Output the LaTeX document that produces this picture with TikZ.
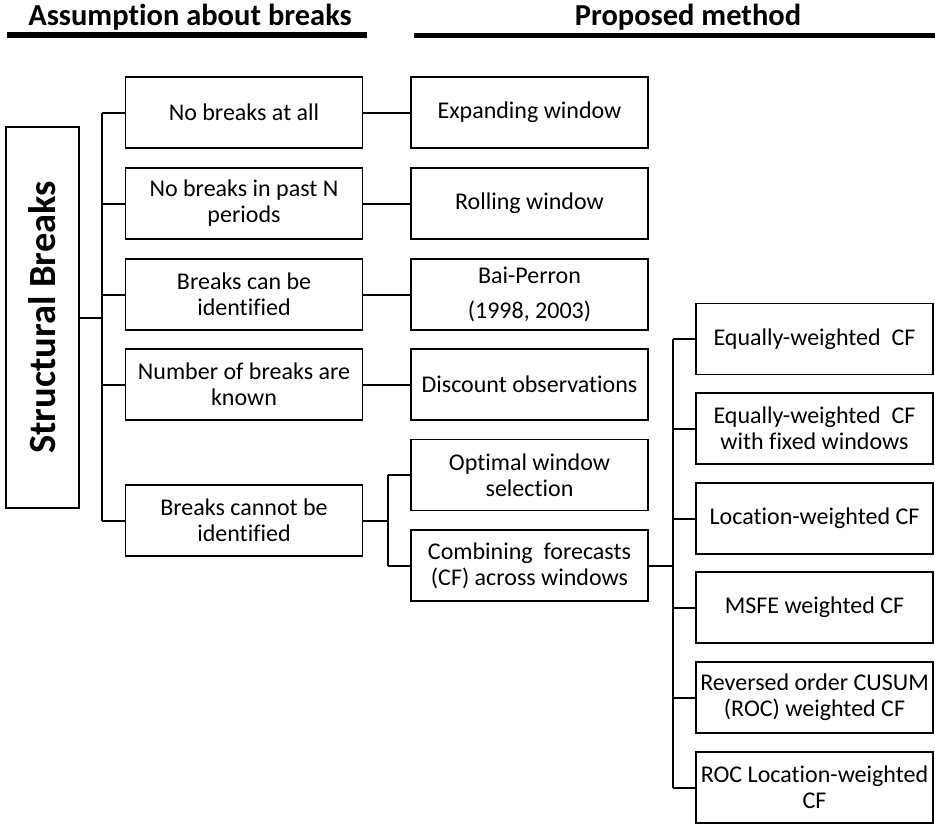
\documentclass[tikz,border=0pt]{standalone}
\usepackage{fontspec}
\setmainfont{Carlito}[Ligatures=NoCommon]
\begin{document}
\begin{tikzpicture}[x=1pt,y=-1pt,
  box/.style={draw, line width=1.8pt, minimum width=237pt, minimum height=71pt,
    inner sep=0pt, align=center, font=\fontsize{24}{26}\selectfont},
  link/.style={line width=2pt},
  header/.style={anchor=base, inner sep=0pt, font=\fontsize{30.5}{34}\selectfont\bfseries}]
\useasboundingbox (0,0) rectangle (935,828);

% column headings with their rules
\node[header] (hA) at (190,25) {Assumption about breaks};
\node[header] (hB) at (688,25) {Proposed method};
\fill (7,32) rectangle (367,37.5);
\fill (414,32.5) rectangle (935,38);

% root
\node[draw, line width=1.8pt, rotate=90, minimum width=381pt, minimum height=73pt,
  inner sep=0pt, font=\fontsize{38.5}{42}\selectfont\bfseries] (root) at (42.5,317.5) {Structural Breaks};

% assumptions
\node[box] (a1) at (244,112.5) {No breaks at all};
\node[box] (a2) at (244,203.5) {No breaks in past N\\periods};
\node[box] (a3) at (244,294.5) {Breaks can be\\identified};
\node[box] (a4) at (244,384.5) {Number of breaks are\\known};
\node[box] (a5) at (244,520.5) {Breaks cannot be\\identified};

% methods
\node[box] (b1) at (529.5,112.5) {Expanding window};
\node[box] (b2) at (529.5,203.5) {Rolling window};
\node[box] (b3) at (529.5,294.5) {Bai-Perron\\[9pt](1998, 2003)};
\node[box] (b4) at (529.5,384.5) {Discount observations};
\node[box] (b5) at (529.5,475) {Optimal window\\selection};
\node[box] (b6) at (529.5,565.5) {Combining\ \ forecasts\\(CF) across windows};

% combining-forecast variants
\node[box] (c1) at (814.5,339) {Equally-weighted\ \ CF};
\node[box] (c2) at (814.5,428.5) {Equally-weighted\ \ CF\\with fixed windows};
\node[box] (c3) at (814.5,518.5) {Location-weighted CF};
\node[box] (c4) at (814.5,607.5) {MSFE weighted CF};
\node[box] (c5) at (814.5,697.5) {Reversed order CUSUM\\(ROC) weighted CF};
\node[box] (c6) at (814.5,787.5) {ROC Location-weighted\\CF};

% bus positions
\coordinate (busA) at (102,0);
\coordinate (busB) at (388,0);
\coordinate (busC) at (673,0);

% root to assumptions
\draw[link] (root.south) -- (root.south -| busA);
\draw[link] (a1.west -| busA) -- (a5.west -| busA);
\foreach \i in {1,...,5} \draw[link] (a\i.west) -- (a\i.west -| busA);

% assumptions to methods
\foreach \i in {1,...,4} \draw[link] (a\i.east) -- (b\i.west);
\draw[link] (a5.east) -- (a5.east -| busB);
\draw[link] (b5.west -| busB) -- (b6.west -| busB);
\draw[link] (b5.west) -- (b5.west -| busB);
\draw[link] (b6.west) -- (b6.west -| busB);

% combining forecasts to variants
\draw[link] (b6.east) -- (b6.east -| busC);
\draw[link] (c1.west -| busC) -- (c6.west -| busC);
\foreach \i in {1,...,6} \draw[link] (c\i.west) -- (c\i.west -| busC);
\end{tikzpicture}
\end{document}
